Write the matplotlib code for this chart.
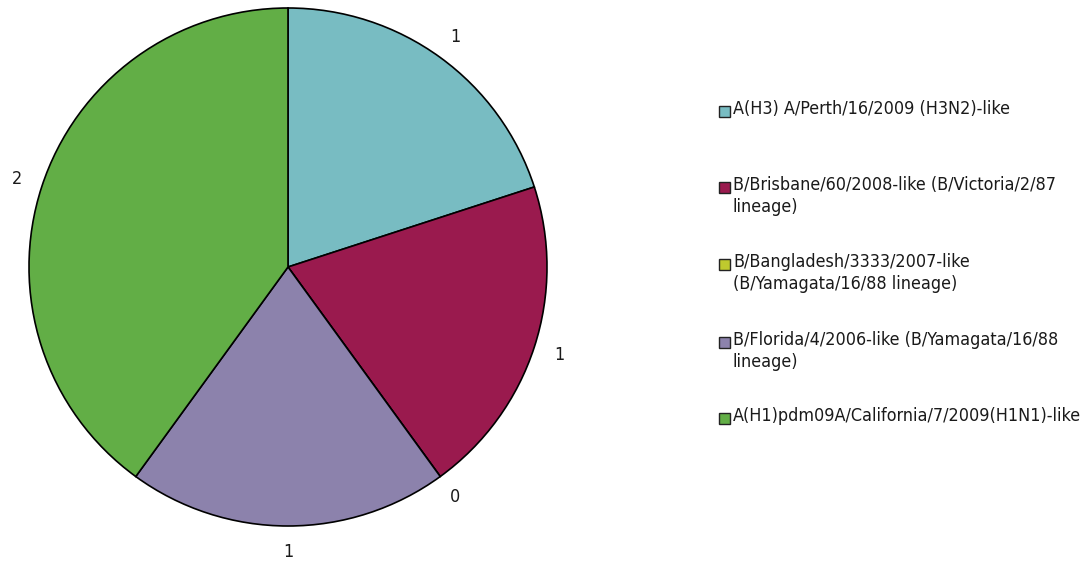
import matplotlib.pyplot as plt
from matplotlib import font_manager
from matplotlib.patches import Rectangle

# data
labels = [
    "A(H3) A/Perth/16/2009 (H3N2)-like",
    "B/Brisbane/60/2008-like (B/Victoria/2/87\nlineage)",
    "B/Bangladesh/3333/2007-like\n(B/Yamagata/16/88 lineage)",
    "B/Florida/4/2006-like (B/Yamagata/16/88\nlineage)",
    "A(H1)pdm09A/California/7/2009(H1N1)-like",
]
values = [1, 1, 0, 1, 2]
colors = ["#78BCC2", "#9A1A4E", "#BFCA2E", "#8C82AC", "#62AE46"]

# Tahoma-like look: use DejaVu Sans Condensed when it is there
have_cond = any('Condensed' in f.fname and 'DejaVuSans' in f.fname.replace(' ', '')
                for f in font_manager.fontManager.ttflist)
if have_cond:
    font = dict(family='DejaVu Sans', stretch='condensed', size=12.9)
else:
    font = dict(family='Liberation Sans', size=13)

W, H = 1091, 562
fig = plt.figure(figsize=(W / 100, H / 100), dpi=100)

# pie: center (288, 267) px, radius 259 px
cx, cy, r = 288, 267, 259
ax = fig.add_axes([(cx - r) / W, 1 - (cy + r) / H, 2 * r / W, 2 * r / H])
wedges, texts = ax.pie(values, labels=[str(v) for v in values], colors=colors,
                       startangle=90, counterclock=False, labeldistance=1.1,
                       wedgeprops=dict(edgecolor="black", linewidth=1.2),
                       textprops=dict(fontproperties=font_manager.FontProperties(**font),
                                      color="#1a1a1a"))
for t in texts:
    t.set_ha('center')
    t.set_va('center')
ax.set_aspect('auto')
ax.set_xlim(-1, 1)
ax.set_ylim(-1, 1)
ax.axis('off')

# legend drawn by hand so the marker lines up with the first text line
legend_y = [111, 187, 264, 342, 418]
for lab, col, y in zip(labels, colors, legend_y):
    fig.add_artist(Rectangle((719 / W, 1 - (y + 6) / H), 11 / W, 11 / H,
                             transform=fig.transFigure, facecolor=col,
                             edgecolor="#222222", linewidth=1.0))
    fig.text(733 / W, 1 - (y - 11) / H, lab, ha='left', va='top',
             fontproperties=font_manager.FontProperties(**font),
             color="#1a1a1a", linespacing=1.27)

plt.savefig("out.png", dpi=100)
